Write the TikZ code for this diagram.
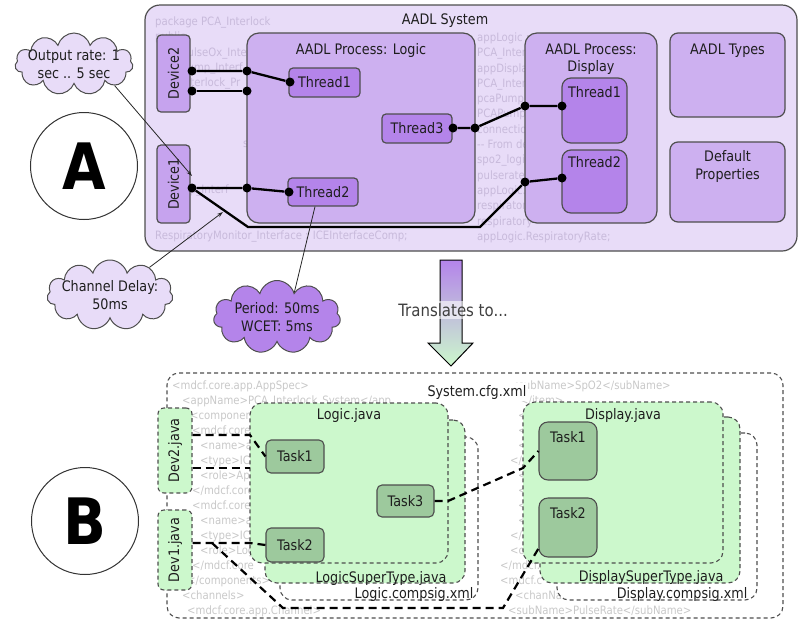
\documentclass[tikz,border=0pt]{standalone}
\usepackage{fontspec}
\setmainfont{DejaVu Sans}[FakeStretch=0.88]
\usepackage{graphicx}
\usepackage{tikz}
\usetikzlibrary{arrows.meta}
\usetikzlibrary{shapes.symbols}
\usetikzlibrary{fit}
\definecolor{sysfill}{HTML}{E8DCF8}
\definecolor{procfill}{HTML}{CDB0F0}
\definecolor{devfill}{HTML}{C6A3EE}
\definecolor{thrfill}{HTML}{B484EA}
\definecolor{greenfill}{HTML}{CCF8CC}
\definecolor{taskfill}{HTML}{9DC99D}
\definecolor{edgegray}{HTML}{4E4E4E}
\definecolor{inkgray}{HTML}{1E1E1E}
\definecolor{codepurple}{HTML}{C8BADB}
\definecolor{codegray}{HTML}{C8C8C8}
\tikzset{
  sysbox/.style={draw=edgegray, line width=1.2pt, fill=sysfill, rounded corners=15pt, inner sep=0pt},
  procbox/.style={draw=edgegray, line width=1.2pt, fill=procfill, rounded corners=12pt, inner sep=0pt},
  devbox/.style={draw=edgegray, line width=1.2pt, fill=devfill, rounded corners=4pt, inner sep=0pt,
    minimum width=33pt},
  thrbox/.style={draw=edgegray, line width=1.2pt, fill=thrfill, rounded corners=4pt, inner sep=0pt},
  ttl/.style={anchor=north, inner sep=0pt, align=center},
  tag/.style={anchor=east, inner sep=0pt},
  port/.style={circle, fill=black, minimum size=9pt, inner sep=0pt},
  link/.style={line width=2.3pt, black},
  note/.style={line width=0.8pt, draw=black!85},
  bubble/.style={cloud, cloud puffs=11, cloud ignores aspect, draw=edgegray, line width=1pt,
    inner xsep=-30pt, inner ysep=-15pt, align=center},
  dashbox/.style={draw=edgegray, line width=1.1pt, dash pattern=on 4pt off 3pt, rounded corners=12pt, inner sep=0pt},
  javabox/.style={dashbox, fill=greenfill},
  taskbox/.style={draw=edgegray, line width=1.1pt, fill=taskfill, rounded corners=5pt, inner sep=0pt},
  dlink/.style={line width=2.2pt, black, dash pattern=on 8pt off 5pt},
  aadlcode/.style={anchor=north west, inner sep=0pt, align=left, text=codepurple, font=\fontsize{11.5}{15.3}\selectfont},
  xmlcode/.style={anchor=north west, inner sep=0pt, align=left, text=codegray, font=\fontsize{11.5}{15}\selectfont},
  bigletter/.style={circle, draw=black!80, line width=1pt, fill=white, minimum size=107pt, inner sep=0pt,
    font=\fontsize{64}{64}\selectfont\bfseries, text=black}
}

\begin{document}
\begin{tikzpicture}[x=1pt,y=-1pt,font=\fontsize{14.5}{17.5}\selectfont,text=inkgray]
\useasboundingbox (0,0) rectangle (806,622);

\node[sysbox, fit={(145,5) (797,251)}] (sys) {};
\node[aadlcode] (aadlsrc) at (155,16.5) {package PCA\_Interlock\\
public\\
\hspace*{26pt}pulseOx\_Inte\\
\hspace*{26pt}pump\_Interf\\
\hspace*{26pt}interlock\_Pr\\
\mbox{}\\
\mbox{}\\
\mbox{}\\
\hspace*{88pt}s\\
\mbox{}\\
\mbox{}\\
\hspace*{12pt}pump\_Interf\\
\mbox{}\\
\mbox{}\\
RespiratoryMonitor\_Interface : ICEInterfaceComp;};
\node[aadlcode] (aadlconn) at (477,32.5) {appLogic :\\
PCA\_Interl\\
appDisplay\\
PCA\_Interl\\
pcaPump\_In\\
PCAPump\_In\\
connection\\
-{}- From de\\
spo2\_logic\\
pulserate\_\\
appLogic.P\\
respiratory\\
respiratory\\
appLogic.RespiratoryRate;};
\node (systitle) at (445,21) {AADL System};

\node[devbox, minimum height=77pt] (dev2) at (173.5,73.5) {\rotatebox{90}{Device2}};
\node[devbox, minimum height=78pt] (dev1) at (173.5,184) {\rotatebox{90}{Device1}};
\node[procbox, fit={(247,33) (475,223)}, label={[ttl, yshift=-11pt]north:{AADL Process: Logic}}] (logic) {};
\node[procbox, fit={(525,33) (657,223)}, label={[ttl, yshift=-11pt]north:{AADL Process:\\Display}}] (display) {};
\node[procbox, rounded corners=8pt, fit={(670,33) (785,117)}, label={[ttl, yshift=-11pt]north:{AADL Types}}] (types) {};
\node[procbox, rounded corners=8pt, fit={(670,142) (785,222)}, label={[ttl, yshift=-9pt]north:{Default\\Properties}}] (props) {};
\node[thrbox, minimum width=71pt, minimum height=29pt] (lthr1) at (324.5,82.5) {Thread1};
\node[thrbox, minimum width=70pt, minimum height=29pt] (lthr3) at (417,128.5) {Thread3};
\node[thrbox, minimum width=70pt, minimum height=28pt] (lthr2) at (323,192) {Thread2};
\node[thrbox, rounded corners=9pt, fit={(562,78) (627,143)}, label={[ttl, yshift=-9pt]north:Thread1}] (dthr1) {};
\node[thrbox, rounded corners=9pt, fit={(562,150) (627,213)}, label={[ttl, yshift=-7pt]north:Thread2}] (dthr2) {};

\node[port] (d2a) at (192,71) {};
\node[port] (d2b) at (192,91) {};
\node[port] (d1o) at (192,188) {};
\node[port] (lga) at (247,71) {};
\node[port] (lgb) at (247,91) {};
\node[port] (lgc) at (247,188) {};
\node[port] (t1in) at (290,82) {};
\node[port] (t2in) at (289,192) {};
\node[port] (t3out) at (453,128) {};
\node[port] (lgout) at (475,128) {};
\node[port] (dpa) at (525,106) {};
\node[port] (dpb) at (525,182) {};
\node[port] (dt1in) at (562,106) {};
\node[port] (dt2in) at (562,178) {};
\draw[link] (d2a) -- (lga) -- (t1in);
\draw[link] (d2b) -- (lgb);
\draw[link] (d1o) -- (lgc) -- (t2in);
\draw[link] (d1o) -- (248,227) -- (480,227) -- (dpb) -- (dt2in);
\draw[link] (t3out) -- (lgout) -- (dpa) -- (dt1in);

\node[bubble, fill=sysfill, minimum width=118pt, minimum height=62pt] (ratecl) at (74,64) {Output rate: 1\\sec .. 5 sec};
\node[bubble, fill=sysfill, minimum width=126pt, minimum height=70pt] (delaycl) at (110,295) {Channel Delay:\\50ms};
\node[bubble, fill=thrfill, minimum width=127pt, minimum height=73pt] (percl) at (277,317) {Period: 50ms\\WCET: 5ms};
\coordinate (ratetip) at (192,176);
\coordinate (delaytip) at (223,212);
\draw[note, -{Stealth[length=6pt, width=4pt]}] (ratecl.-28) -- (ratetip);
\draw[note, -{Stealth[length=6pt, width=4pt]}] (delaycl.35) -- (delaytip);
\draw[note] (percl.55) -- ([xshift=-8pt]lthr2.south);

\node[bigletter] (labela) at (84,166) {A};

\shade[top color=thrfill, bottom color=greenfill, draw=black, line width=1pt]
  (440,260) -- (462,260) -- (462,343) -- (473,343) -- (451,366) -- (428,343) -- (440,343) -- cycle;
\node[fill=white, fill opacity=0.6, text opacity=1, inner sep=2pt, text=black!75,
  font=\fontsize{17}{20}\selectfont] (xlate) at (453,310) {Translates to...};

\node[dashbox, fit={(167,373) (783,618)}] (cfg) {};
\node[xmlcode] (cfgsrc) at (172,380.5) {<mdcf.core.app.AppSpec>\\
\hspace*{10pt}<appName>PCA\_Interlock\_System</app\\
\hspace*{18pt}<components>\\
\hspace*{20pt}<mdcf.core.a\\
\hspace*{28pt}<name>ap\\
\hspace*{28pt}<type>ICE\\
\hspace*{28pt}<role>App\\
\hspace*{20pt}</mdcf.core\\
\hspace*{20pt}<mdcf.core.a\\
\hspace*{28pt}<name>ap\\
\hspace*{28pt}<type>ICE\\
\hspace*{28pt}<role>Log\\
\hspace*{20pt}</mdcf.core\\
\hspace*{15pt}</components>\\
\hspace*{10pt}<channels>\\
\hspace*{15pt}<mdcf.core.app.Channel>};
\node[xmlcode] (cfgchan) at (500,380.5) {\hspace*{10pt}<subName>SpO2</subName>\\
\hspace*{20pt}</item>\\
\hspace*{18pt}<it\\
\hspace*{18pt}<ch\\
\hspace*{18pt}<pu\\
\hspace*{10pt}</it\\
\hspace*{18pt}<it\\
\hspace*{18pt}<ch\\
\hspace*{18pt}<pu\\
\hspace*{18pt}<su\\
\hspace*{10pt}</it\\
\hspace*{10pt}<ch\\
</mdcf.core\\
<mdcf.c\\
\hspace*{15pt}<chanNa\\
\hspace*{8pt}<subName>PulseRate</subName>};
\node[fill=white, inner sep=1.5pt] (cfgname) at (477,392) {System.cfg.xml};

\node[dashbox, fill=white, fit={(280,437) (478,600)}, label={[tag, xshift=-5pt, yshift=6pt]south east:Logic.compsig.xml}] (lcomp) {};
\node[javabox, fit={(265,420) (465,583)}, label={[tag, xshift=-19pt, yshift=5pt]south east:LogicSuperType.java}] (lsuper) {};
\node[javabox, fit={(250,403) (448,563)}, label={[ttl, yshift=-6pt]north:Logic.java}] (ljava) {};
\node[dashbox, fill=white, fit={(557,433) (757,600)}, label={[tag, xshift=-10pt, yshift=6pt]south east:Display.compsig.xml}] (dcomp) {};
\node[javabox, fit={(540,417) (740,583)}, label={[tag, xshift=-17pt, yshift=6pt]south east:DisplaySuperType.java}] (dsuper) {};
\node[javabox, fit={(523,402) (723,563)}, label={[ttl, yshift=-7pt]north:Display.java}] (djava) {};

\node[taskbox, minimum width=58pt, minimum height=33pt] (task1) at (295,456.5) {Task1};
\node[taskbox, minimum width=58pt, minimum height=34pt] (task2) at (295,545) {Task2};
\node[taskbox, minimum width=57pt, minimum height=32pt] (task3) at (405.5,501) {Task3};
\node[taskbox, rounded corners=9pt, fit={(539,422) (597,480)}, label={[ttl, yshift=-10pt]north:Task1}] (dtask1) {};
\node[taskbox, rounded corners=9pt, fit={(539,498) (597,557)}, label={[ttl, yshift=-10pt]north:Task2}] (dtask2) {};
\node[javabox, rounded corners=6pt, minimum width=34pt, minimum height=85pt] (dev2j) at (175,450.5) {\rotatebox{90}{Dev2.java}};
\node[javabox, rounded corners=6pt, minimum width=34pt, minimum height=80pt] (dev1j) at (175,550) {\rotatebox{90}{Dev1.java}};

\coordinate (lj1) at (250,435);
\coordinate (lj2) at (250,468);
\coordinate (lj3) at (250,543);
\coordinate (lj4) at (212,543);
\draw[dlink] (dev2j.east |- lj1) -- (lj1) -- (task1.west);
\draw[dlink] (dev2j.east |- lj2) -- (lj2);
\draw[dlink] (dev1j.east |- lj3) -- (lj3) -- (task2.west);
\draw[dlink] (lj4) -- (283,608) -- (503,608) -- ([yshift=9pt]dtask2.south west);
\draw[dlink] (task3.east) -- (448,501) -- (523,468) -- (dtask1.west);

\node[bigletter] (labelb) at (85,521) {B};
\end{tikzpicture}
\end{document}
